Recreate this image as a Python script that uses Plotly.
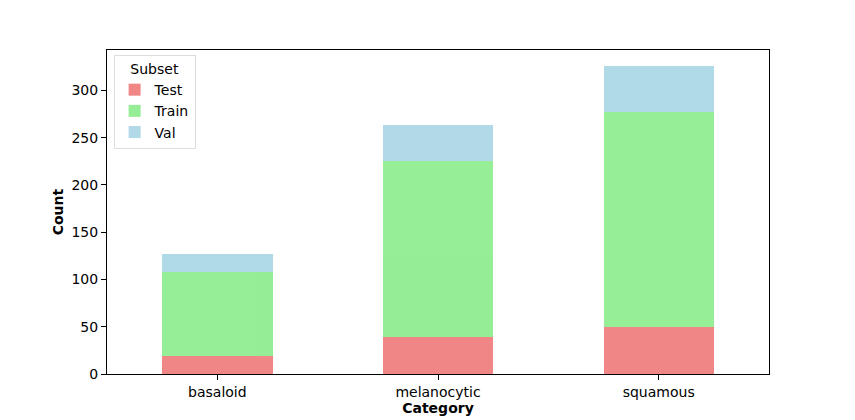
import plotly.graph_objects as go

categories = ["basaloid", "melanocytic", "squamous"]
test_vals = [19, 39, 50]
train_vals = [89, 186, 227]
val_vals = [19, 38, 49]
subsets = ["Test", "Train", "Val"]
colors = ["#F08080", "#90EE90", "#ADD8E6"]

fig = go.Figure()
for name, vals, c in zip(subsets, [test_vals, train_vals, val_vals], colors):
    fig.add_trace(go.Bar(x=categories, y=vals, name=name, marker=dict(color=c, line=dict(width=0)),
                         width=0.5, opacity=0.95))

font_family = "DejaVu Sans, sans-serif"
fig.update_layout(
    barmode="stack",
    width=855, height=420,
    margin=dict(l=99, r=94, t=42, b=54, autoexpand=False),
    paper_bgcolor="white", plot_bgcolor="white",
    font=dict(family=font_family, size=14, color="black"),
    showlegend=True,
    legend=dict(
        title=dict(text="Subset", side="top center", font=dict(size=14)),
        x=0.01, y=0.985, xanchor="left", yanchor="top",
        bgcolor="rgba(255,255,255,0.8)", bordercolor="#dddddd", borderwidth=1,
        font=dict(size=14), traceorder="normal", itemwidth=30, tracegroupgap=0,
    ),
    xaxis=dict(
        range=[-0.5, 2.5], showline=True, linecolor="black", linewidth=1, mirror=True,
        ticks="outside", ticklen=5, tickcolor="black", showgrid=False, automargin=False,
        title=dict(text="<b>Category</b>", standoff=4, font=dict(size=14)),
    ),
    yaxis=dict(
        range=[0, 342.8], showline=True, linecolor="black", linewidth=1, mirror=True,
        ticks="outside", ticklen=5, tickcolor="black", showgrid=False, automargin=False,
        tickvals=[0, 50, 100, 150, 200, 250, 300], zeroline=False,
        title=dict(text="<b>Count</b>", standoff=4, font=dict(size=14)),
    ),
)

fig.write_html("out.html")
